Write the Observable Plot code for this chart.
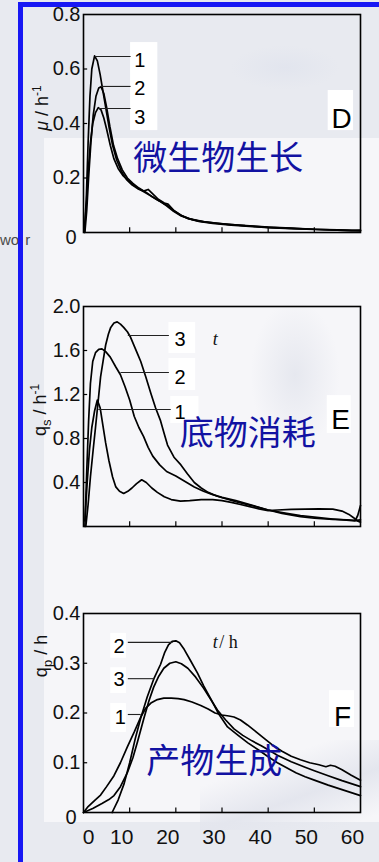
<!DOCTYPE html>
<html><head><meta charset="utf-8">
<script src="https://cdn.jsdelivr.net/npm/d3@7"></script>
<script src="https://cdn.jsdelivr.net/npm/@observablehq/plot@0.6"></script>
<style>
html,body{margin:0;padding:0;}
body{width:379px;height:862px;overflow:hidden;position:relative;background:#e8eaf0;font-family:"Liberation Sans",Arial,sans-serif;}
.deco{position:absolute;}
.panel{position:absolute;left:0;width:379px;}
.panel svg{overflow:visible;display:block;}
</style></head><body>
<div class="deco" style="left:44px;top:138px;width:335px;height:684px;background:#f6f6f9;"></div>
<div class="deco" style="left:230px;top:45px;width:110px;height:45px;border-radius:50%;background:radial-gradient(ellipse at center,#e2e5ee 0%,rgba(240,240,245,0) 70%);"></div>
<div class="deco" style="left:250px;top:300px;width:90px;height:150px;border-radius:50%;background:radial-gradient(ellipse at center,#e6e8ef 0%,rgba(240,240,245,0) 70%);"></div>
<div class="deco" style="left:200px;top:740px;width:179px;height:90px;background:linear-gradient(160deg,rgba(246,246,249,0) 30%,#e4e6ee 60%,rgba(246,246,249,0) 90%);"></div>
<div class="deco" style="left:0px;top:231px;font-size:15px;color:#4a4a4a;font-family:'Liberation Sans',Arial,sans-serif;white-space:nowrap;">wo<span style="margin-left:6px">r</span></div>
<div id="pD" class="panel" style="top:0px"></div>
<div id="pE" class="panel" style="top:290px"></div>
<div id="pF" class="panel" style="top:580px"></div>
<div class="deco" style="left:18px;top:2px;width:361px;height:5px;background:#1818f4;"></div>
<div class="deco" style="left:18px;top:2px;width:5px;height:860px;background:#1818f4;"></div>
<script>
// ---------- data ----------
const xTicks = [0, 10, 20, 30, 40, 50, 60];
const muTicks = [0, 0.2, 0.4, 0.6, 0.8];
const qsTicks = [0.4, 0.8, 1.2, 1.6, 2.0];
const qpTicks = [0, 0.1, 0.2, 0.3, 0.4];

// D: specific growth rate mu (h^-1), curves 1-3, [t (h), value]
const mu1 = [[0.2,0.01],[0.6,0.12],[1.0,0.33],[1.4,0.5],[1.8,0.6],[2.4,0.648],[3.0,0.63],[3.6,0.58],[4.2,0.52],[4.8,0.46],[5.5,0.39],[6.3,0.32],[7.2,0.265],[8.2,0.225],[9.3,0.195],[10.5,0.175],[11.8,0.16],[13,0.152],[14,0.158],[15,0.142],[16.2,0.122],[17.5,0.108],[18.3,0.104],[19.5,0.082],[21,0.064],[22.5,0.052],[25,0.041],[28,0.033],[32,0.027],[36,0.022],[40,0.018],[45,0.014],[50,0.011],[55,0.009],[58,0.007],[60,0.009]];
const mu2 = [[0.3,0.0],[0.7,0.08],[1.1,0.2],[1.6,0.33],[2.1,0.43],[2.7,0.5],[3.3,0.53],[3.8,0.535],[4.4,0.51],[5.0,0.46],[5.7,0.39],[6.5,0.32],[7.4,0.27],[8.4,0.23],[9.5,0.2],[10.7,0.18],[12,0.163],[13.5,0.148],[15,0.13],[16.5,0.115],[18,0.098],[19.5,0.078],[21,0.062],[23,0.05],[25,0.042],[28,0.035],[32,0.029],[36,0.024],[40,0.019],[45,0.015],[50,0.012],[55,0.009],[60,0.006]];
const mu3 = [[0.2,0.0],[0.6,0.1],[1.0,0.22],[1.5,0.33],[2.0,0.4],[2.6,0.44],[3.2,0.458],[3.8,0.45],[4.4,0.42],[5.0,0.38],[5.8,0.32],[6.6,0.27],[7.5,0.235],[8.5,0.21],[9.7,0.19],[11,0.172],[12.5,0.155],[14,0.14],[15.5,0.125],[17,0.11],[18.5,0.095],[20,0.075],[21.5,0.06],[23,0.05],[26,0.04],[30,0.032],[35,0.025],[40,0.02],[45,0.016],[50,0.012],[55,0.01],[60,0.007]];

// E: substrate consumption rate qs (h^-1)
const qs1 = [[0.3,0.05],[0.8,0.4],[1.3,0.7],[1.8,0.9],[2.4,1.05],[3.0,1.15],[3.6,1.08],[4.2,0.92],[4.8,0.76],[5.5,0.6],[6.3,0.45],[7.0,0.36],[7.8,0.32],[8.7,0.3],[9.6,0.32],[10.5,0.35],[11.5,0.39],[12.6,0.425],[13.6,0.4],[14.8,0.35],[16,0.31],[17.5,0.27],[19,0.245],[21,0.23],[23,0.235],[25.5,0.245],[28,0.245],[30,0.235],[32,0.22],[34,0.2],[36,0.18],[38,0.16],[40,0.145],[42,0.15],[45,0.155],[48,0.158],[51,0.16],[54,0.158],[56,0.14],[57.5,0.11],[58.5,0.08],[59.3,0.05],[60,0.04]];
const qs2 = [[0.3,0.0],[0.7,0.5],[1.1,0.95],[1.5,1.3],[2.0,1.5],[2.6,1.58],[3.3,1.61],[4.0,1.615],[4.8,1.59],[5.8,1.54],[7.0,1.45],[8.0,1.38],[9.0,1.27],[10,1.15],[11,1.0],[12,0.9],[13,0.82],[14,0.72],[15,0.64],[16.5,0.56],[18,0.5],[20,0.46],[22,0.41],[24,0.36],[26,0.32],[28,0.29],[30,0.265],[33,0.235],[36,0.2],[40,0.15],[43,0.12],[47,0.09],[50,0.075],[54,0.065],[57,0.06],[59,0.055],[60,0.06]];
const qs3 = [[0.5,0.0],[1.0,0.2],[1.5,0.45],[2.1,0.7],[2.6,0.9],[3.2,1.15],[3.7,1.36],[4.3,1.52],[4.8,1.65],[5.4,1.75],[5.9,1.81],[6.6,1.85],[7.3,1.86],[8.0,1.84],[8.7,1.81],[9.5,1.77],[10.2,1.72],[11.0,1.64],[11.8,1.56],[12.4,1.5],[13.5,1.36],[14.6,1.21],[15.6,1.08],[16.7,0.96],[17.5,0.84],[18.2,0.74],[19.6,0.63],[21.1,0.56],[22.5,0.48],[24,0.4],[25.5,0.35],[27,0.31],[29,0.275],[31,0.25],[33,0.225],[36,0.195],[40,0.15],[44,0.12],[47,0.1],[50,0.085],[54,0.068],[57,0.058],[58.8,0.05],[59.4,0.1],[60,0.19]];

// F: product formation rate qp (h^-1)
const qp1 = [[0,0],[1,0.012],[2.5,0.025],[3.7,0.035],[5,0.052],[6.6,0.074],[8,0.1],[9.5,0.132],[11,0.162],[12.4,0.192],[13.5,0.21],[14.6,0.22],[16,0.227],[17.4,0.23],[19,0.23],[20.5,0.229],[21.8,0.227],[23.5,0.222],[25.4,0.215],[27,0.208],[28.5,0.2],[30,0.196],[31.5,0.194],[32.6,0.192],[34,0.186],[35.5,0.176],[37,0.165],[39,0.15],[41.3,0.133],[43,0.123],[45,0.113],[47,0.106],[49,0.1],[51,0.096],[52.5,0.092],[53.5,0.095],[54.5,0.093],[56,0.086],[58,0.075],[60,0.065]];
const qp2 = [[6.2,0],[7.5,0.025],[8.8,0.058],[10,0.1],[11.2,0.148],[12.4,0.19],[13.8,0.232],[15.2,0.268],[16.7,0.298],[17.6,0.322],[18.4,0.337],[19.2,0.344],[20,0.345],[20.8,0.341],[21.8,0.328],[23.2,0.305],[24.7,0.28],[26,0.255],[27.6,0.228],[29.3,0.198],[31.2,0.172],[33.5,0.155],[35.6,0.14],[38,0.125],[40,0.112],[42,0.1],[44,0.09],[46,0.08],[48,0.072],[50,0.065],[53,0.055],[56,0.046],[60,0.034]];
const qp3 = [[0,0],[2,0.008],[4,0.018],[5.5,0.026],[6.6,0.034],[8,0.052],[9.5,0.08],[10.7,0.11],[11.7,0.142],[13.1,0.19],[14.2,0.225],[15.2,0.252],[16.3,0.274],[17.4,0.29],[18.7,0.3],[20,0.303],[21.2,0.299],[22.6,0.29],[24.3,0.272],[26,0.25],[27.5,0.228],[29,0.206],[30.8,0.186],[32.6,0.168],[34.5,0.155],[36.5,0.144],[38.5,0.134],[40,0.126],[42,0.115],[45,0.102],[48,0.091],[50,0.084],[53,0.074],[56,0.064],[60,0.052]];

// annotations (data units)
const dLeaders = [{t1:2.6,t2:10.2,v:0.646},{t1:3.7,t2:10.2,v:0.536},{t1:3.2,t2:10.2,v:0.455}];
const dLabels = [{id:"1",t:12.2,v:0.631},{id:"2",t:12.2,v:0.528},{id:"3",t:12.2,v:0.422}];
const dBoxes = [{t1:10.2,t2:16.1,v1:0.374,v2:0.697},{t1:53,t2:58.5,v1:0.374,v2:0.521}];
const eLeaders = [{t1:9.6,t2:18.5,v:1.736},{t1:8.0,t2:18.5,v:1.4},{t1:3.2,t2:18.9,v:1.064}];
const eLabels = [{id:"3",t:20.9,v:1.7},{id:"2",t:20.9,v:1.355},{id:"1",t:20.9,v:1.036}];
const eBoxes = [{t1:18.5,t2:24.3,v1:1.573,v2:1.855},{t1:18.5,t2:24.3,v1:1.236,v2:1.527},{t1:18.9,t2:25,v1:0.936,v2:1.182},{t1:52.8,t2:58,v1:0.845,v2:1.19}];
const fLeaders = [{t1:9.6,t2:19.3,v:0.342},{t1:9.6,t2:15.4,v:0.269},{t1:9.6,t2:12.4,v:0.197}];
const fLabels = [{id:"2",t:7.7,v:0.334},{id:"3",t:7.7,v:0.267},{id:"1",t:8.0,v:0.191}];
const fBoxes = [{t1:5.9,t2:9.3,v1:0.31,v2:0.36},{t1:5.9,t2:9.3,v1:0.239,v2:0.291},{t1:5.9,t2:9.3,v1:0.161,v2:0.219},{t1:53.3,t2:58.7,v1:0.171,v2:0.245}];

const titles = {D:"微生物生长", E:"底物消耗", F:"产物生成"};

// ---------- drawing ----------
const FONT = "Liberation Sans, Arial, sans-serif";
const fmt = d => d === 0 ? "0" : d.toFixed(1);

function makePanel(cfg) {
  const series = cfg.curves.flatMap((c, i) => c.map(([t, v]) => ({t, v, k: i + 1})));
  const ym = cfg.ymax;
  const marks = [
    Plot.rect(cfg.boxes, {x1: "t1", x2: "t2", y1: "v1", y2: "v2", fill: "white"}),
    Plot.ruleY(cfg.yticks.filter(d => d > 0 && d < ym), {x1: 0, x2: 0.9, stroke: "black", strokeWidth: 1.2}),
    Plot.ruleX(xTicks.filter(d => d > 0 && d < 60), {y1: 0, y2: ym * 0.022, stroke: "black", strokeWidth: 1.2}),
    Plot.line(series, {x: "t", y: "v", z: "k", stroke: "black", strokeWidth: 1.7, strokeLinejoin: "round"}),
    Plot.link(cfg.leaders, {x1: "t1", x2: "t2", y1: "v", y2: "v", stroke: "#222", strokeWidth: 1.1}),
    Plot.text(cfg.labels, {x: "t", y: "v", text: "id", fontSize: 20, fill: "black"}),
    Plot.text([cfg.letter], {x: () => cfg.letterPos[0], y: () => cfg.letterPos[1], text: d => d, fontSize: 28, fill: "black"}),
    Plot.text([titles[cfg.letter]], {x: () => cfg.titlePos[0], y: () => cfg.titlePos[1], text: d => d, fontSize: 34, fill: "#1212a2", fontFamily: "Noto Sans CJK SC"}),
    Plot.frame({stroke: "black", strokeWidth: 1.6}),
    Plot.text(cfg.yticks.filter(d => d > 0), {y: d => d, frameAnchor: "left", dx: -3, textAnchor: "end", text: fmt, fontSize: 20, fill: "#111"})
  ];
  if (cfg.yticks.includes(0)) {
    marks.push(Plot.text([0], {y: d => d, frameAnchor: "left", dx: -7, dy: 5, textAnchor: "end", text: fmt, fontSize: 20, fill: "#111"}));
  }
  if (cfg.xlabels) {
    marks.push(Plot.text(xTicks.filter(d => d === 0), {x: d => d, frameAnchor: "bottom", dy: 31, dx: 5, text: d => String(d), fontSize: 21, fill: "#111"}));
    marks.push(Plot.text(xTicks.filter(d => d > 0), {x: d => d, frameAnchor: "bottom", dy: 31, dx: -8, text: d => String(d), fontSize: 21, fill: "#111"}));
  }
  if (cfg.extra) marks.push(...cfg.extra);
  const svg = Plot.plot({
    width: 379, height: cfg.height,
    marginLeft: 83, marginRight: 19, marginTop: cfg.mt, marginBottom: cfg.mb,
    x: {domain: [0, 60], axis: null},
    y: {domain: [0, ym], axis: null},
    style: {background: "transparent", fontFamily: FONT, overflow: "visible"},
    marks
  });
  // rotated y-axis title with sub/superscripts
  const g = d3.select(svg).append("text")
    .attr("transform", `translate(${cfg.titleX},${cfg.titleY}) rotate(-90)`)
    .attr("text-anchor", "middle")
    .attr("font-family", FONT).attr("font-size", 18).attr("fill", "#111");
  cfg.ytitle(g);
  document.getElementById(cfg.el).appendChild(svg);
}

makePanel({
  el: "pD", letter: "D", curves: [mu1, mu2, mu3], ymax: 0.8, yticks: muTicks,
  height: 290, mt: 14, mb: 58,
  leaders: dLeaders, labels: dLabels, boxes: dBoxes,
  letterPos: [55.9, 0.418], titlePos: [29.2, 0.268],
  titleX: 48, titleY: 108,
  ytitle: g => {
    g.append("tspan").attr("font-style", "italic").text("μ");
    g.append("tspan").text(" / h");
    g.append("tspan").attr("dy", -7).attr("font-size", 12).text("-1");
  }
});

makePanel({
  el: "pE", letter: "E", curves: [qs1, qs2, qs3], ymax: 2.0, yticks: qsTicks,
  height: 290, mt: 16, mb: 54,
  leaders: eLeaders, labels: eLabels, boxes: eBoxes,
  letterPos: [55.7, 0.964], titlePos: [35.6, 0.836],
  titleX: 46, titleY: 120,
  ytitle: g => {
    g.append("tspan").text("q");
    g.append("tspan").attr("dy", 5).attr("font-size", 13).text("s");
    g.append("tspan").attr("dy", -5).text(" / h");
    g.append("tspan").attr("dy", -7).attr("font-size", 12).text("-1");
  },
  extra: [
    Plot.text(["t"], {x: () => 28.0, y: () => 1.7, text: d => d, textAnchor: "start", fontSize: 18, fontStyle: "italic", fontFamily: "Liberation Serif, serif", fill: "#111"})
  ]
});

makePanel({
  el: "pF", letter: "F", curves: [qp1, qp2, qp3], ymax: 0.4, yticks: qpTicks,
  height: 282, mt: 33, mb: 50,
  leaders: fLeaders, labels: fLabels, boxes: fBoxes,
  letterPos: [56.1, 0.191], titlePos: [28.3, 0.1005], xlabels: true,
  titleX: 47, titleY: 76,
  ytitle: g => {
    g.append("tspan").text("q");
    g.append("tspan").attr("dy", 5).attr("font-size", 13).text("p");
    g.append("tspan").attr("dy", -5).text(" / h");
  },
  extra: [
    Plot.text(["t"], {x: () => 28.0, y: () => 0.342, text: d => d, textAnchor: "start", fontSize: 18, fontStyle: "italic", fontFamily: "Liberation Serif, serif", fill: "#111"}),
    Plot.text(["/ h"], {x: () => 29.4, y: () => 0.342, text: d => d, textAnchor: "start", fontSize: 18, fontFamily: "Liberation Serif, serif", fill: "#111"})
  ]
});
</script>
</body></html>
